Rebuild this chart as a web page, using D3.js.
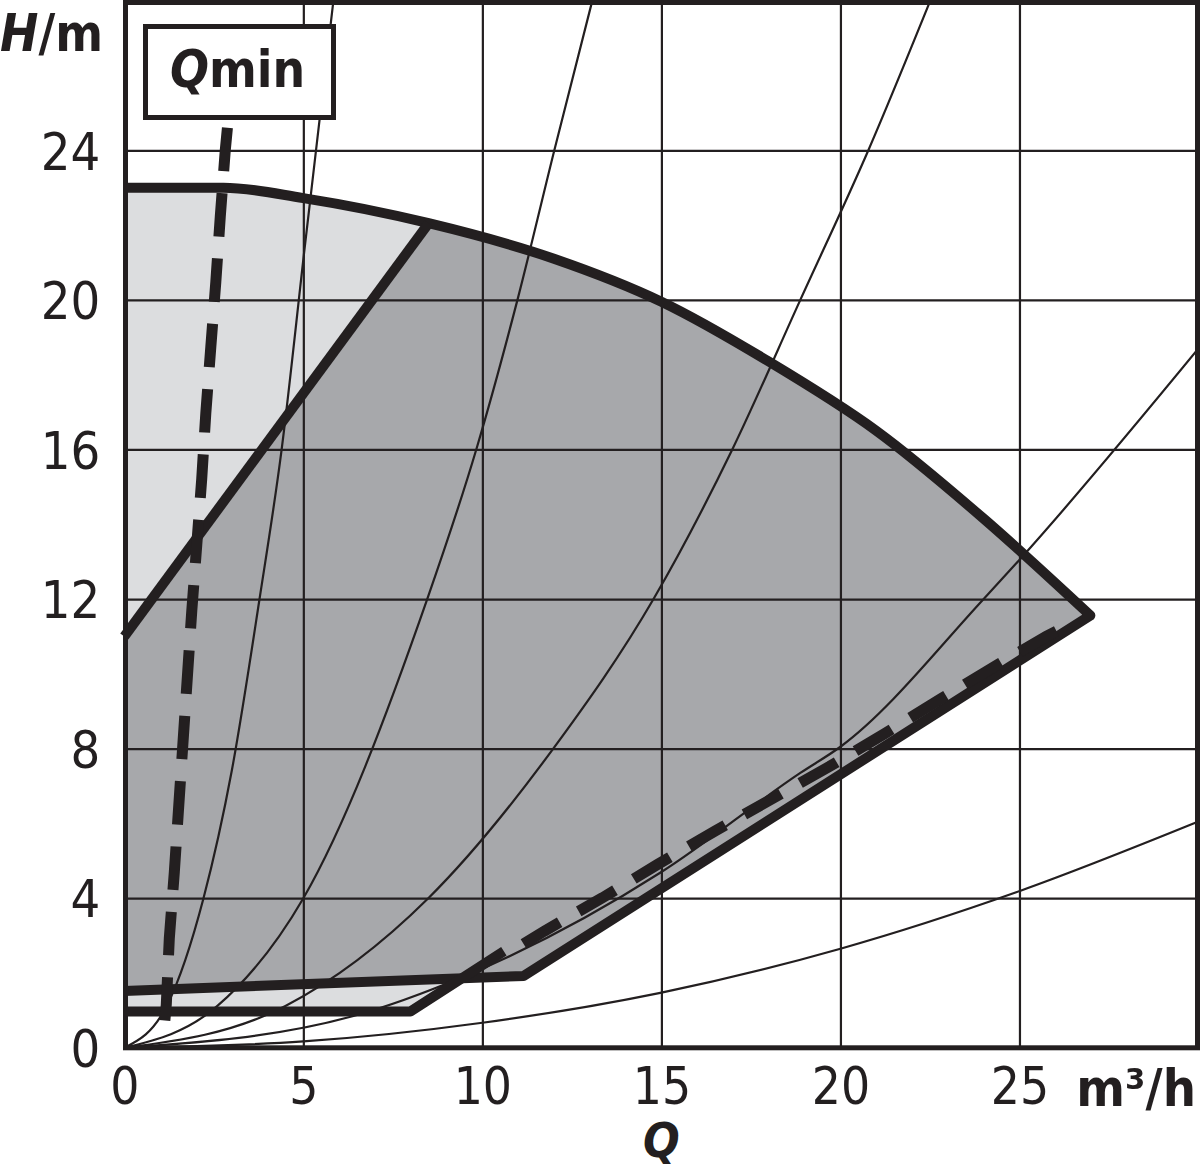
<!DOCTYPE html>
<html>
<head>
<meta charset="utf-8">
<script src="https://cdn.jsdelivr.net/npm/d3@7"></script>
<style>
  body { margin: 0; background: #fff; }
  svg { display: block; }
</style>
</head>
<body>
<svg id="chart" width="1200" height="1171"></svg>
<script>
// ---------- data ----------
const xTickValues = [0, 5, 10, 15, 20, 25];
const yTickValues = [0, 4, 8, 12, 16, 20, 24];
const xGridValues = [5, 10, 15, 20, 25];
const yGridValues = [4, 8, 12, 16, 20, 24];

// max. curve (Q m3/h, H m)
const maxCurve = [[0, 23], [2.77, 23], [5, 22.72], [8.5, 22.05], [12, 21.1], [15, 19.95],
  [18, 18.35], [21, 16.5], [24, 14.15], [26.98, 11.56]];
// thick line splitting light/dark area
const splitLine = [[0, 11.0], [8.5, 22.05]];
// lower-right min boundary (from max curve end back to H axis)
const minUpper = [[26.98, 11.56], [11.15, 1.92], [0, 1.52]];
// lowest min line
const minLower = [[0, 0.97], [7.99, 0.97], [10.6, 2.58]];
// bottom of the light grey area
const lightBottom = [[26.98, 11.56], [11.15, 1.92], [9.42, 1.85], [7.99, 0.97], [0, 0.97]];
// dashed line close to the lower-right boundary
const dashedMin = [[11.15, 2.78], [11.73, 3.12], [13.35, 4.01], [14.89, 4.9], [16.5, 5.8], [19.69, 7.52],
  [21.23, 8.4], [22.82, 9.34], [24.4, 10.25], [25.75, 11.0], [26.05, 11.15]];
// Qmin dashed line (top to bottom)
const qminLine = [[2.88, 24.6], [2.82, 24.0], [2.68, 22.22], [2.556, 20.48], [2.416, 18.74], [2.277, 16.98],
  [2.162, 15.21], [2.025, 13.46], [1.885, 11.69], [1.397, 4.70], [1.257, 2.93], [1.173, 1.16], [1.12, 0.6]];
// thin system curves
const sysCurve1 = [[0, 0], [1.2, 1.15], [2.21, 3.99], [3.0, 7.4], [3.77, 11.96], [4.39, 15.97], [5.03, 21.33], [5.84, 28]];
const sysCurve2 = [[0, 0], [2.6, 1.12], [5, 4.0], [8.46, 12], [9.83, 16], [10.98, 20], [12.01, 24], [13.07, 28]];
const sysCurve3 = [[0, 0], [4.5, 1.12], [8.49, 4.0], [11.98, 8], [14.78, 12], [16.98, 16], [18.88, 20], [20.78, 24], [22.51, 28]];
const sysCurve4 = [[0, 0], [6.4, 0.85], [9.47, 1.9], [15, 4.7], [18.88, 7.35], [20, 8.05], [24, 12], [25.03, 13.08], [30, 18.7]];
const sysCurve5 = [[0, 0], [5, 0.17], [10, 0.67], [14.97, 1.47], [20, 2.65], [25.03, 4.2], [30, 6.05]];
const systemCurves = [sysCurve1, sysCurve2, sysCurve3, sysCurve4, sysCurve5];

// ---------- drawing ----------
const INK = "#231f20";
const DARK = "#a7a8ab";
const LIGHT = "#dcdddf";
const FONT = "'DejaVu Sans Condensed', 'DejaVu Sans', sans-serif";

const svg = d3.select("#chart");
const x = d3.scaleLinear().domain([0, 30]).range([124.3, 1198.5]);
const y = d3.scaleLinear().domain([0, 28]).range([1047.8, 0.7]);

const line = d3.line().x(d => x(d[0])).y(d => y(d[1]));
const smooth = d3.line().x(d => x(d[0])).y(d => y(d[1])).curve(d3.curveMonotoneX);
const pts = arr => arr.map(d => "L" + x(d[0]) + "," + y(d[1])).join("");

svg.append("rect").attr("width", 1200).attr("height", 1171).attr("fill", "#fff");

svg.append("clipPath").attr("id", "plot").append("rect")
  .attr("x", x(0)).attr("y", y(28)).attr("width", x(30) - x(0)).attr("height", y(0) - y(28));

// light area
svg.append("path")
  .attr("d", smooth(maxCurve) + pts(lightBottom) + "Z")
  .attr("fill", LIGHT);
// dark area
const maxRight = maxCurve.filter(d => d[0] >= 8.5);
svg.append("path")
  .attr("d", line([splitLine[0]]) + pts([splitLine[1]]) + smooth(maxRight).replace(/^M/, "L") + pts(minUpper.slice(1)) + "Z")
  .attr("fill", DARK);

// grid
svg.append("g")
  .attr("transform", `translate(0,${y(0)})`)
  .call(d3.axisBottom(x).tickValues(xGridValues).tickSize(-(y(0) - y(28))).tickFormat(""))
  .call(g => g.select(".domain").remove())
  .selectAll("line").attr("stroke", INK).attr("stroke-width", 2.2);
svg.append("g")
  .attr("transform", `translate(${x(0)},0)`)
  .call(d3.axisLeft(y).tickValues(yGridValues).tickSize(-(x(30) - x(0))).tickFormat(""))
  .call(g => g.select(".domain").remove())
  .selectAll("line").attr("stroke", INK).attr("stroke-width", 2.2);

// thin system curves
const thin = svg.append("g").attr("clip-path", "url(#plot)");
thin.selectAll("path").data(systemCurves).join("path")
  .attr("d", d => smooth(d))
  .attr("fill", "none").attr("stroke", INK).attr("stroke-width", 2.2);

// thick lines
const thick = svg.append("g").attr("fill", "none").attr("stroke", INK)
  .attr("stroke-width", 10).attr("stroke-linejoin", "round");
thick.append("path").attr("d", smooth(maxCurve) + pts(minUpper.slice(1)));
thick.append("path").attr("d", line(splitLine));
thick.append("path").attr("d", line(minLower));

// dashed lines
svg.append("path").attr("d", line(dashedMin))
  .attr("fill", "none").attr("stroke", INK).attr("stroke-width", 11)
  .attr("stroke-dasharray", "42,22");
svg.append("path").attr("d", line(qminLine))
  .attr("fill", "none").attr("stroke", INK).attr("stroke-width", 11)
  .attr("stroke-dasharray", "43.5,22");

// frame
svg.append("rect")
  .attr("x", x(0) + 1.2).attr("y", y(28) + 1.8)
  .attr("width", x(30) - x(0) - 2.2).attr("height", y(0) - y(28) - 1.8)
  .attr("fill", "none").attr("stroke", INK).attr("stroke-width", 5);

// Qmin box
svg.append("rect").attr("x", 145.5).attr("y", 26.5).attr("width", 188).attr("height", 91)
  .attr("fill", "#fff").attr("stroke", INK).attr("stroke-width", 5);
const qmin = svg.append("text").attr("x", 170).attr("y", 87)
  .attr("font-family", FONT).attr("font-size", 51).attr("font-weight", "bold").attr("fill", INK);
qmin.append("tspan").attr("font-style", "italic").text("Q");
qmin.append("tspan").text("min");

// axes labels
const xa = svg.append("g")
  .attr("transform", `translate(0,${y(0)})`)
  .call(d3.axisBottom(x).tickValues(xTickValues).tickSize(0).tickPadding(20));
xa.select(".domain").remove();
xa.attr("font-family", FONT).attr("font-size", 51);
xa.selectAll("text").attr("fill", INK);

const ya = svg.append("g")
  .attr("transform", `translate(${x(0)},0)`)
  .call(d3.axisLeft(y).tickValues(yTickValues).tickSize(0).tickPadding(24));
ya.select(".domain").remove();
ya.attr("font-family", FONT).attr("font-size", 52);
ya.selectAll("text").attr("fill", INK).attr("dy", "0.36em");

// titles
const hm = svg.append("text").attr("x", 103).attr("y", 51).attr("text-anchor", "end")
  .attr("font-family", FONT).attr("font-size", 51).attr("font-weight", "bold").attr("fill", INK);
hm.append("tspan").attr("font-style", "italic").text("H");
hm.append("tspan").text("/m");

svg.append("text").attr("x", 1196).attr("y", 1106).attr("text-anchor", "end")
  .attr("font-family", FONT).attr("font-size", 52).attr("font-weight", "bold").attr("fill", INK)
  .text("m³/h");

svg.append("text").attr("x", x(15)).attr("y", 1157).attr("text-anchor", "middle")
  .attr("font-family", FONT).attr("font-size", 48).attr("font-weight", "bold").attr("font-style", "italic")
  .attr("fill", INK).text("Q");
</script>
</body>
</html>
